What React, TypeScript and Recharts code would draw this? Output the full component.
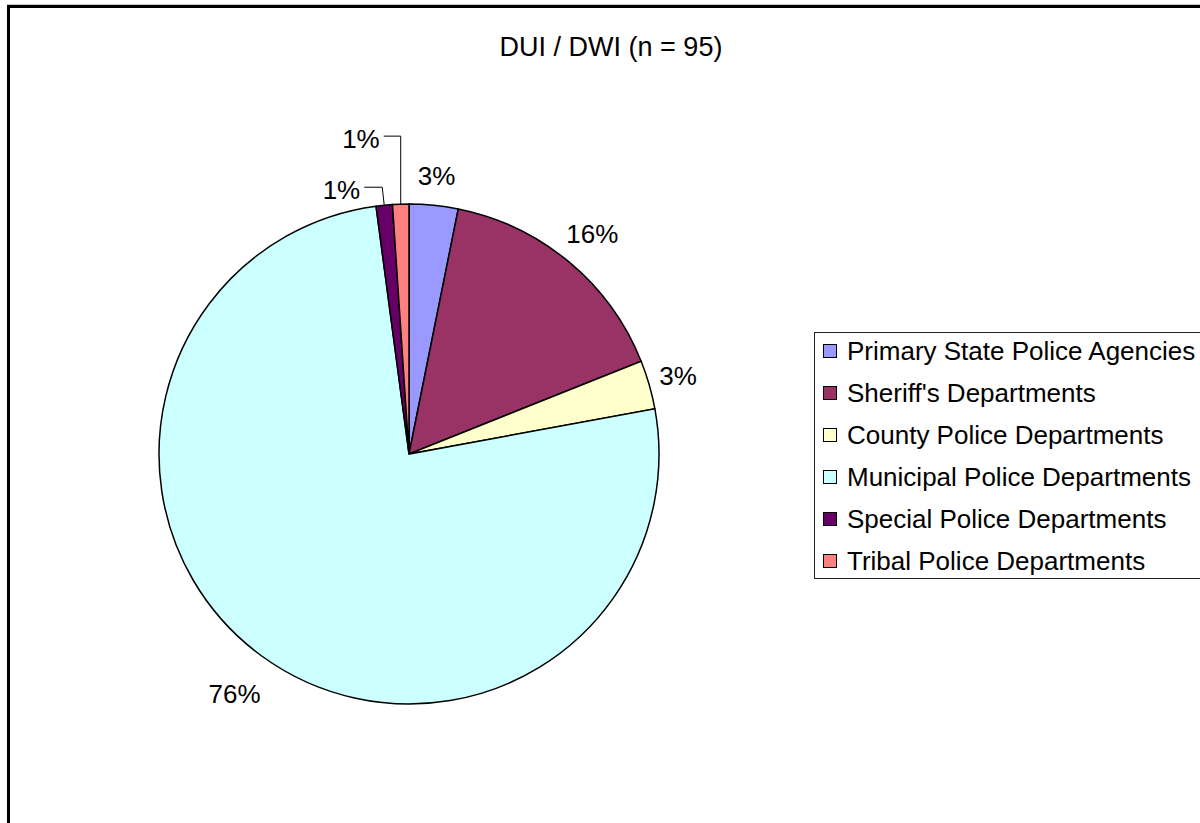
import { PieChart, Pie, Cell, Legend } from 'recharts';

const categories = [
    'Primary State Police Agencies',
    "Sheriff's Departments",
    'County Police Departments',
    'Municipal Police Departments',
    'Special Police Departments',
    'Tribal Police Departments',
];
const counts = [3, 15, 3, 72, 1, 1];
const colors = ['#9999FF', '#993366', '#FFFFCC', '#CCFFFF', '#660066', '#FF8080'];
const title = 'DUI / DWI (n = 95)';

const data = categories.map((name, i) => ({ name, value: counts[i] }));

const FONT = '"Liberation Sans", Arial, sans-serif';
const RAD = Math.PI / 180;

// labels that Excel pulled away from the tiny slices, with elbow leader lines
const leaders: Record<number, { up: number; left: number; dx: number }> = {
    4: { up: 18, left: 18, dx: -2 },
    5: { up: 68, left: 17, dx: 0 },
};

const renderLabel = (props: any) => {
    const { cx, cy, midAngle, outerRadius, percent, index } = props;
    const text = `${Math.round(percent * 100)}%`;
    const cos = Math.cos(-midAngle * RAD);
    const sin = Math.sin(-midAngle * RAD);
    const lead = leaders[index];
    if (lead) {
        const ex = cx + outerRadius * cos;
        const ey = cy + outerRadius * sin;
        const kx = ex + lead.dx;
        const ky = ey - lead.up;
        const hx = kx - lead.left;
        return (
            <g>
                <polyline
                    points={`${ex},${ey} ${kx},${ky} ${hx},${ky}`}
                    fill="none"
                    stroke="#000"
                    strokeWidth={1}
                />
                <text
                    x={hx - 4}
                    y={ky + 3}
                    textAnchor="end"
                    dominantBaseline="central"
                    fontSize={26}
                    fontFamily={FONT}
                    fill="#000"
                >
                    {text}
                </text>
            </g>
        );
    }
    const halfW = text.length * 7.5;
    const r = outerRadius + 15 + halfW * Math.abs(cos) * (cos < 0 ? 1.6 : 0.8) + 13 * Math.abs(sin);
    return (
        <text
            x={cx + r * cos}
            y={cy + r * sin}
            textAnchor="middle"
            dominantBaseline="central"
            fontSize={26}
            fontFamily={FONT}
            fill="#000"
        >
            {text}
        </text>
    );
};

const renderLegend = (props: any) => {
    const { payload } = props;
    return (
        <div
            style={{
                border: '1px solid #222',
                width: 420,
                height: 247,
                boxSizing: 'border-box',
                background: '#fff',
            }}
        >
            <div style={{ marginTop: -3 }}>
                {(payload || []).map((entry: any, i: number) => (
                    <div
                        key={i}
                        style={{
                            display: 'flex',
                            alignItems: 'center',
                            height: 42,
                            fontFamily: FONT,
                            fontSize: 26,
                            color: '#000',
                            whiteSpace: 'nowrap',
                        }}
                    >
                        <span
                            style={{
                                display: 'inline-block',
                                width: 12,
                                height: 12,
                                marginLeft: 8,
                                marginRight: 10,
                                border: '1px solid #000',
                                background: entry.color,
                            }}
                        />
                        {entry.value}
                    </div>
                ))}
            </div>
        </div>
    );
};

export default function App() {
    return (
        <div style={{ position: 'fixed', left: 0, top: 0, width: 1200, height: 823, overflow: 'hidden', background: '#fff' }}>
            <div style={{ position: 'absolute', left: 7, top: 4, width: 1400, height: 1, background: '#c8c8c8' }} />
            <div style={{ position: 'absolute', left: 7, top: 5, width: 1400, height: 1000, border: '3px solid #000' }} />
            <div
                style={{
                    position: 'absolute',
                    left: 0,
                    top: 31,
                    width: 1222,
                    textAlign: 'center',
                    fontFamily: FONT,
                    fontSize: 27,
                    lineHeight: '32px',
                    color: '#000',
                }}
            >
                {title}
            </div>
            <div style={{ position: 'absolute', left: 0, top: 0 }}>
                <PieChart width={1200} height={823} margin={{ top: 0, right: 0, bottom: 0, left: 0 }}>
                    <Pie
                        data={data}
                        dataKey="value"
                        nameKey="name"
                        cx={409}
                        cy={454}
                        outerRadius={250}
                        startAngle={90}
                        endAngle={-270}
                        stroke="#000"
                        strokeWidth={1.5}
                        label={renderLabel}
                        labelLine={false}
                        isAnimationActive={false}
                    >
                        {data.map((d, i) => (
                            <Cell key={d.name} fill={colors[i]} />
                        ))}
                    </Pie>
                    <Legend
                        layout="vertical"
                        align="right"
                        verticalAlign="top"
                        content={renderLegend}
                        itemSorter={(item: any) => categories.indexOf(item.value)}
                        wrapperStyle={{ position: 'absolute', left: 814, top: 332, width: 420, right: 'auto' }}
                    />
                </PieChart>
            </div>
        </div>
    );
}
